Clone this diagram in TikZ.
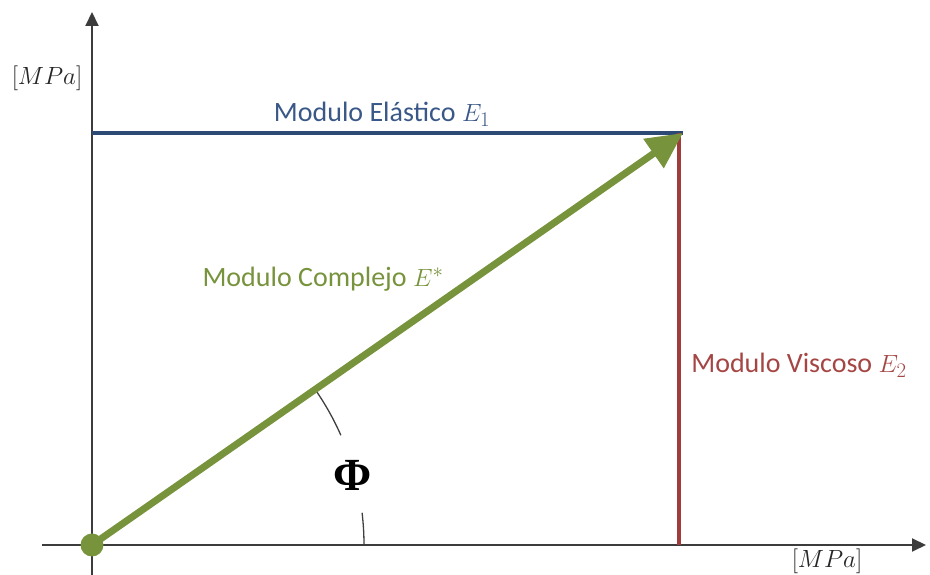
\documentclass[tikz,border=0pt]{standalone}
\usepackage{fontspec}
\setmainfont{Carlito}
\newfontfamily\phifont{Liberation Serif}
\usetikzlibrary{arrows.meta}
\definecolor{axisgray}{RGB}{60,60,60}
\definecolor{elblue}{RGB}{44,74,115}
\definecolor{eltext}{RGB}{58,88,135}
\definecolor{cgreen}{RGB}{119,147,60}
\definecolor{vred}{RGB}{160,60,60}
\definecolor{vtext}{RGB}{165,70,68}
\tikzset{
  axis/.style={draw=axisgray, line width=2pt, -{Triangle[length=14pt,width=13pt]}},
  lbl/.style={font=\fontsize{28}{32}\selectfont, inner sep=0pt},
  unitlbl/.style={font=\fontsize{28}{32}\selectfont, inner sep=0pt, text=black!85},
  arcline/.style={draw=black!75, line width=1.3pt}
}
\begin{document}
\begin{tikzpicture}[x=1pt,y=1pt]
\useasboundingbox (0,0) rectangle (930,575);
\coordinate (O) at (92,30);
\coordinate (P) at (683,442);
\coordinate (Q) at (679,442);
\coordinate (R) at (679,30);
\coordinate (yb) at (92,0);
\coordinate (yt) at (92,563);
\coordinate (xl) at (42,30);
\coordinate (xr) at (926,30);
\coordinate (B) at (92,442);
% axes
\draw[axis] (yb) -- (yt);
\draw[axis] (xl) -- (xr);
% elastic
\draw[elblue, line width=3.5pt] (B) -- (P);
% viscous
\draw[vred, line width=3.5pt] (R) -- (Q);
% arcs
\draw[arcline] (O) ++(0:272) arc[start angle=0, end angle=6.8, radius=272];
\draw[arcline] (O) ++(23.8:272) arc[start angle=23.8, end angle=34.9, radius=272];
% complex
\draw[cgreen, line width=7pt, -{Triangle[length=36pt,width=34pt]}] (O) -- (P);
\fill[cgreen] (O) circle[radius=11.5pt];
% labels
\node[lbl, text=eltext] (lE1) at (382,461) {Modulo Elástico $E_1$};
\node[lbl, text=cgreen] (lEs) at (323,296) {Modulo Complejo $E^{*}$};
\node[lbl, text=vtext] (lE2) at (799,210) {Modulo Viscoso $E_2$};
\node[unitlbl] (uy) at (47,497) {$[MPa]$};
\node[unitlbl] (ux) at (827,14) {$[MPa]$};
\node[inner sep=0pt, font=\phifont\bfseries\fontsize{46}{50}\selectfont] (phi) at (353,100) {Φ};
\end{tikzpicture}
\end{document}
